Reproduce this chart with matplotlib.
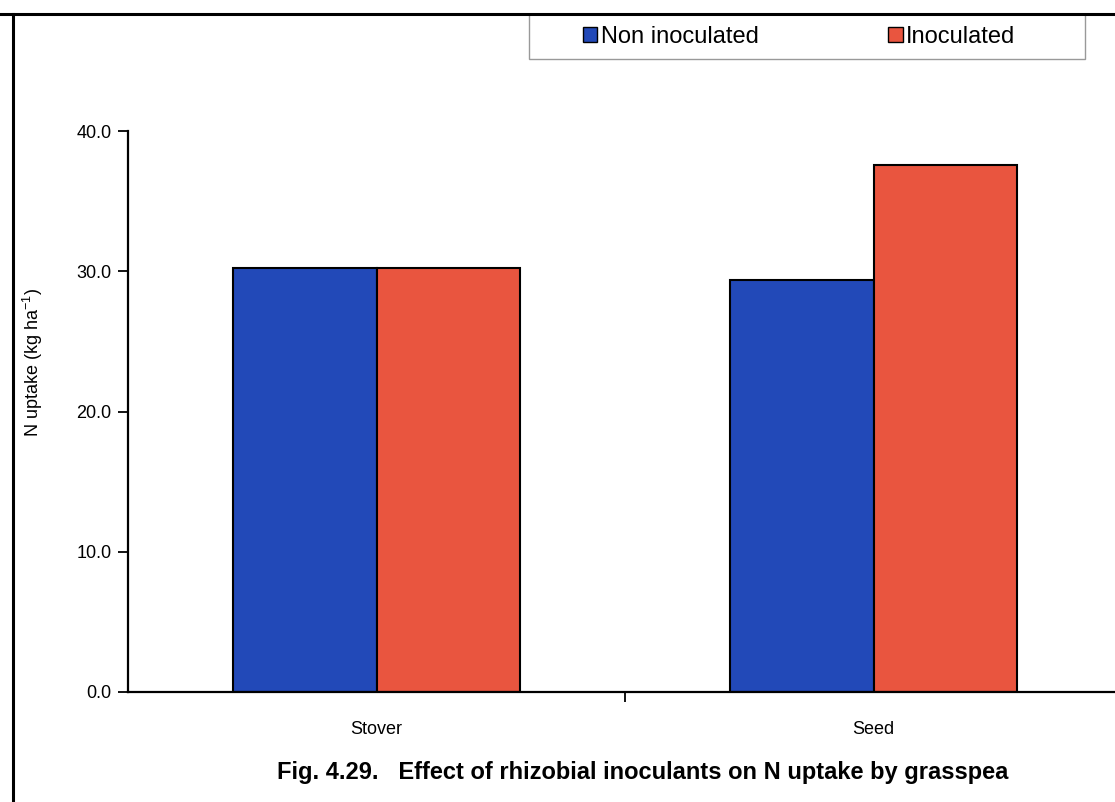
import matplotlib
matplotlib.use("Agg")
import matplotlib.pyplot as plt
from matplotlib.lines import Line2D
from matplotlib.patches import Patch, Rectangle
import numpy as np

# N uptake (kg/ha) by plant part
parts = ["Stover", "Seed"]
non_inoculated = [30.2, 29.4]
inoculated = [30.2, 37.6]
series_names = ["Non inoculated", "Inoculated"]
y_ticks = [0, 10, 20, 30, 40]

blue = "#2249b8"
red = "#e9553f"

plt.rcParams["font.family"] = ["Liberation Sans", "DejaVu Sans"]

W, H = 1115, 802
fig = plt.figure(figsize=(W / 100, H / 100), dpi=100)
ax = fig.add_axes([128 / W, 1 - 692 / H, 994 / W, 561 / H])

x = np.arange(len(parts))
w = 0.288
ax.bar(x - w / 2, non_inoculated, w, color=blue, edgecolor="black", linewidth=1.5)
ax.bar(x + w / 2, inoculated, w, color=red, edgecolor="black", linewidth=1.5)

ax.set_xlim(-0.5, len(parts) - 0.5)
ax.set_ylim(0, 40)
ax.set_yticks(y_ticks)
ax.set_yticklabels([f"{v:.1f}" for v in y_ticks], fontsize=13)
ax.tick_params(axis="y", direction="out", length=7, width=1.3, pad=5)

# category labels in the middle, a tick mark between the two groups
ax.set_xticks(x)
ax.set_xticklabels(parts, fontsize=13)
ax.tick_params(axis="x", length=0, pad=21)
ax.set_xticks(np.arange(0.5, len(parts) - 0.5), minor=True)
ax.tick_params(axis="x", which="minor", direction="out", length=7, width=1.3)

for s in ["top", "right"]:
    ax.spines[s].set_visible(False)
for s in ["left", "bottom"]:
    ax.spines[s].set_linewidth(1.6)

fig.text(33 / W, 1 - 362 / H, "N uptake (kg ha$^{\\mathregular{-1}}$)",
         rotation=90, ha="center", va="center", fontsize=13)

# legend box hanging from the top frame line
fig.add_artist(Rectangle((529 / W, 1 - 59 / H), 556 / W, 45 / H,
                         transform=fig.transFigure, facecolor="white",
                         edgecolor="#999999", linewidth=1.0, zorder=1))
handles = [Patch(facecolor=blue, edgecolor="black"), Patch(facecolor=red, edgecolor="black")]
leg = fig.legend(handles, series_names, loc="center left", ncol=2,
                 bbox_to_anchor=(583 / W, 1 - 37 / H),
                 fontsize=17, frameon=False, borderaxespad=0, borderpad=0,
                 handlelength=0.6, handleheight=0.6, handletextpad=0.15,
                 columnspacing=5.5)

fig.text(643 / W, 1 - 772 / H,
         "Fig. 4.29.   Effect of rhizobial inoculants on N uptake by grasspea",
         fontweight="bold", fontsize=17, ha="center", va="center")

# page frame lines
fig.add_artist(Line2D([0, 1], [1 - 14 / H] * 2, transform=fig.transFigure,
                      color="black", linewidth=2.2))
fig.add_artist(Line2D([13 / W] * 2, [0, 1 - 14 / H], transform=fig.transFigure,
                      color="black", linewidth=2.2))

fig.savefig("out.png", dpi=100)
